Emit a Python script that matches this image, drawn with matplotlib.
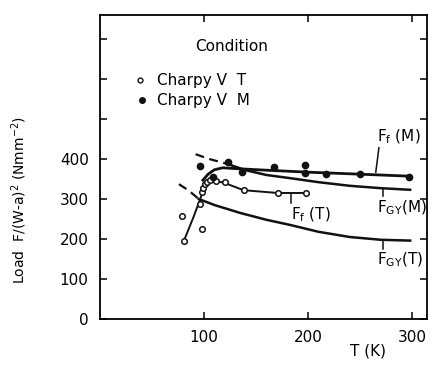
import numpy as np
import matplotlib; matplotlib.use("Agg")
import matplotlib.pyplot as plt

# open circles: Charpy V, condition T
t_T = [79, 81, 96, 98, 98, 99, 101, 103, 106, 112, 120, 138, 171, 198]
f_T = [257, 195, 287, 225, 318, 327, 337, 342, 347, 345, 342, 322, 315, 315]
# filled dots: Charpy V, condition M
t_M = [96, 109, 123, 137, 167, 197, 197, 217, 250, 297]
f_M = [382, 355, 392, 367, 380, 385, 365, 362, 362, 355]

# Ff(T) fracture load curve
ffT_t = [81, 90, 96, 101, 106, 112, 120, 138, 171, 198]
ffT_v = [197, 255, 297, 333, 347, 345, 340, 322, 315, 315]
# Ff(M)
ffM_t = [99, 104, 110, 118, 130, 160, 200, 250, 298]
ffM_v = [347, 362, 373, 378, 376, 372, 367, 362, 357]
# FGY(M): dashed below crossover, solid above
gyM_dash_t = [92, 105, 122]
gyM_dash_v = [412, 400, 388]
gyM_t = [122, 140, 160, 183, 210, 240, 270, 298]
gyM_v = [388, 372, 360, 352, 342, 333, 327, 323]
# FGY(T)
gyT_dash_t = [76, 85, 95]
gyT_dash_v = [337, 322, 300]
gyT_t = [95, 110, 135, 160, 183, 210, 240, 270, 298]
gyT_v = [300, 285, 265, 248, 235, 218, 205, 198, 196]

plt.rcParams['font.family'] = 'DejaVu Sans'
fig = plt.figure(figsize=(4.32, 3.65), dpi=100)
ax = fig.add_axes([0.231, 0.126, 0.757, 0.833])

k = '#111111'
ax.plot(ffT_t, ffT_v, color=k, lw=1.4)
ax.plot(ffM_t, ffM_v, color=k, lw=2.0)
ax.plot(gyM_dash_t, gyM_dash_v, color=k, lw=1.6, ls=(0, (4, 2.5)))
ax.plot(gyM_t, gyM_v, color=k, lw=1.8)
ax.plot(gyT_dash_t, gyT_dash_v, color=k, lw=1.6, ls=(0, (4, 2.5)))
ax.plot(gyT_t, gyT_v, color=k, lw=1.8)
ax.plot(t_T, f_T, 'o', ms=4, mfc='white', mec=k, mew=1.1, ls='none')
ax.plot(t_M, f_M, 'o', ms=4.5, mfc=k, mec=k, ls='none')

# leader lines and curve labels
ax.plot([268, 265], [428, 367], color=k, lw=1.1)
ax.text(266, 432, r'F$_\mathregular{f}$ (M)', fontsize=11, va='bottom')
ax.plot([184, 184], [315, 290], color=k, lw=1.1)
ax.text(184, 283, r'F$_\mathregular{f}$ (T)', fontsize=11, va='top')
ax.plot([272, 272], [328, 308], color=k, lw=1.1)
ax.text(266, 302, r'F$_\mathregular{GY}$(M)', fontsize=11, va='top')
ax.plot([272, 272], [196, 176], color=k, lw=1.1)
ax.text(266, 170, r'F$_\mathregular{GY}$(T)', fontsize=11, va='top')

# legend drawn as text
ax.text(127, 680, 'Condition', fontsize=11, ha='center', va='center')
ax.plot([39], [597], 'o', ms=3.5, mfc='white', mec=k, mew=1)
ax.text(55, 597, 'Charpy V  T', fontsize=11, va='center')
ax.plot([41], [547], 'o', ms=4, mfc=k, mec=k)
ax.text(55, 547, 'Charpy V  M', fontsize=11, va='center')

ax.set_xlim(0, 314)
ax.set_ylim(0, 760)
ax.set_xticks([100, 200, 300])
ax.set_yticks([0, 100, 200, 300, 400, 500, 600, 700])
ax.set_yticklabels(['0', '100', '200', '300', '400', '', '', ''])
ax.tick_params(direction='in', length=5, width=1.1, labelsize=11, top=True, right=True, pad=8)
for s in ax.spines.values():
    s.set_linewidth(1.3)
ax.set_xlabel('T (K)', fontsize=11)
ax.xaxis.set_label_coords(0.82, -0.08)
ax.set_ylabel(r'Load  F/(W-a)$^\mathregular{2}$ (Nmm$^\mathregular{-2}$)', fontsize=10)
ax.yaxis.set_label_coords(-0.215, 0.39)
fig.savefig('out.png', dpi=100)
